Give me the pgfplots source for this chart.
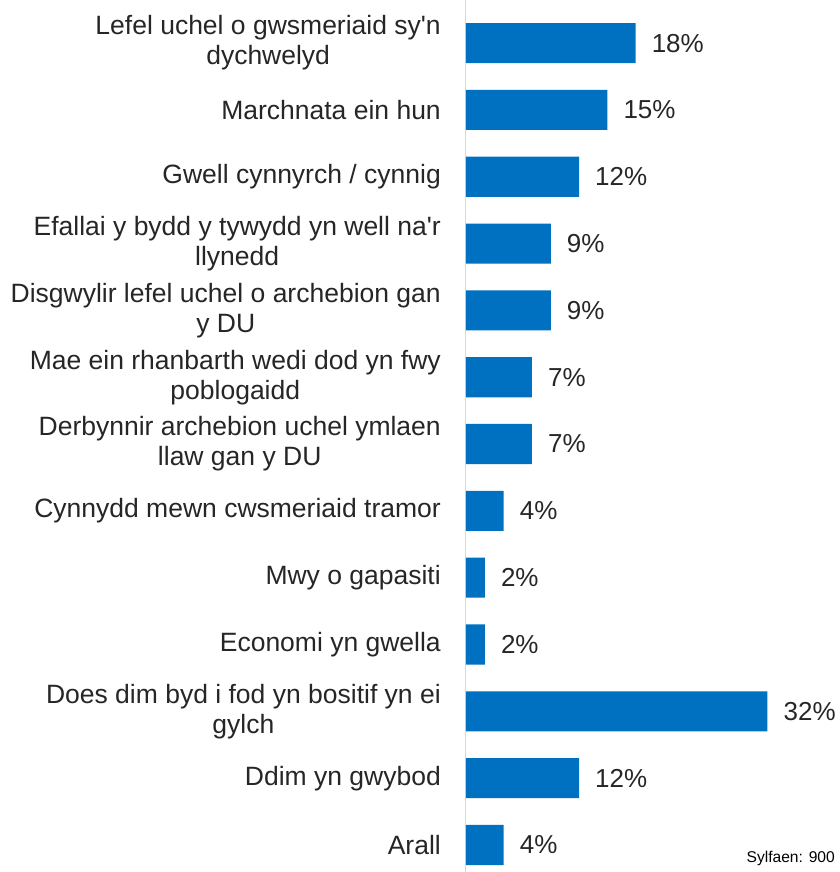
\documentclass[border=0pt]{standalone}
\usepackage{pgfplots}
\pgfplotsset{compat=1.18}
\usepackage{fontspec}
\setmainfont{Liberation Sans}
\definecolor{barblue}{RGB}{0,112,192}
\definecolor{txt}{RGB}{38,38,38}
\definecolor{axgray}{RGB}{217,217,217}

\begin{document}
\begin{tikzpicture}
\begin{axis}[
    at={(0,0)}, anchor=south west,
    scale only axis,
    width=374bp, height=871.9bp,
    xbar, bar width=0.6,
    xmin=0, xmax=39.7,
    ymin=-0.643, ymax=12.404,
    y dir=reverse,
    axis x line=none,
    axis y line=left,
    y axis line style={draw=axgray, line width=1bp, -},
    major tick length=0,
    ytick={0,...,12},
    yticklabels={
        {Lefel uchel o gwsmeriaid sy\textquotesingle n\\dychwelyd},
        {Marchnata ein hun},
        {Gwell cynnyrch / cynnig},
        {Efallai y bydd y tywydd yn well na\textquotesingle r\\llynedd},
        {Disgwylir lefel uchel o archebion gan\\y DU},
        {Mae ein rhanbarth wedi dod yn fwy\\poblogaidd},
        {Derbynnir archebion uchel ymlaen\\llaw gan y DU},
        {Cynnydd mewn cwsmeriaid tramor},
        {Mwy o gapasiti},
        {Economi yn gwella},
        {Does dim byd i fod yn bositif yn ei\\gylch},
        {Ddim yn gwybod},
        {Arall}},
    yticklabel style={font=\fontsize{26.5bp}{30bp}\selectfont, text=txt,
        align=center, anchor=east, inner sep=0pt, xshift=-25bp},
    /pgf/number format/assume math mode=true,
    nodes near coords={\pgfmathprintnumber{\pgfplotspointmeta}\%},
    nodes near coords style={font=\fontsize{26bp}{30bp}\selectfont, text=txt,
        anchor=west, inner sep=0pt, xshift=16bp},
    point meta=x,
    clip=false,
]
\addplot[fill=barblue, draw=none] coordinates {
    (18,0) (15,1) (12,2) (9,3) (9,4) (7,5) (7,6)
    (4,7) (2,8) (2,9) (32,10) (12,11) (4,12)
};
\coordinate (O) at (axis description cs:0,0);
\node[anchor=south east, inner sep=0pt, font=\fontsize{15.6bp}{18bp}\selectfont, text=black]
    at ([xshift=-5bp, yshift=6bp]axis description cs:1,0) {Sylfaen: 900};
\end{axis}
\pgfresetboundingbox
\path (O) ++(-466bp,0) rectangle ++(840bp,872bp);
\end{tikzpicture}
\end{document}
